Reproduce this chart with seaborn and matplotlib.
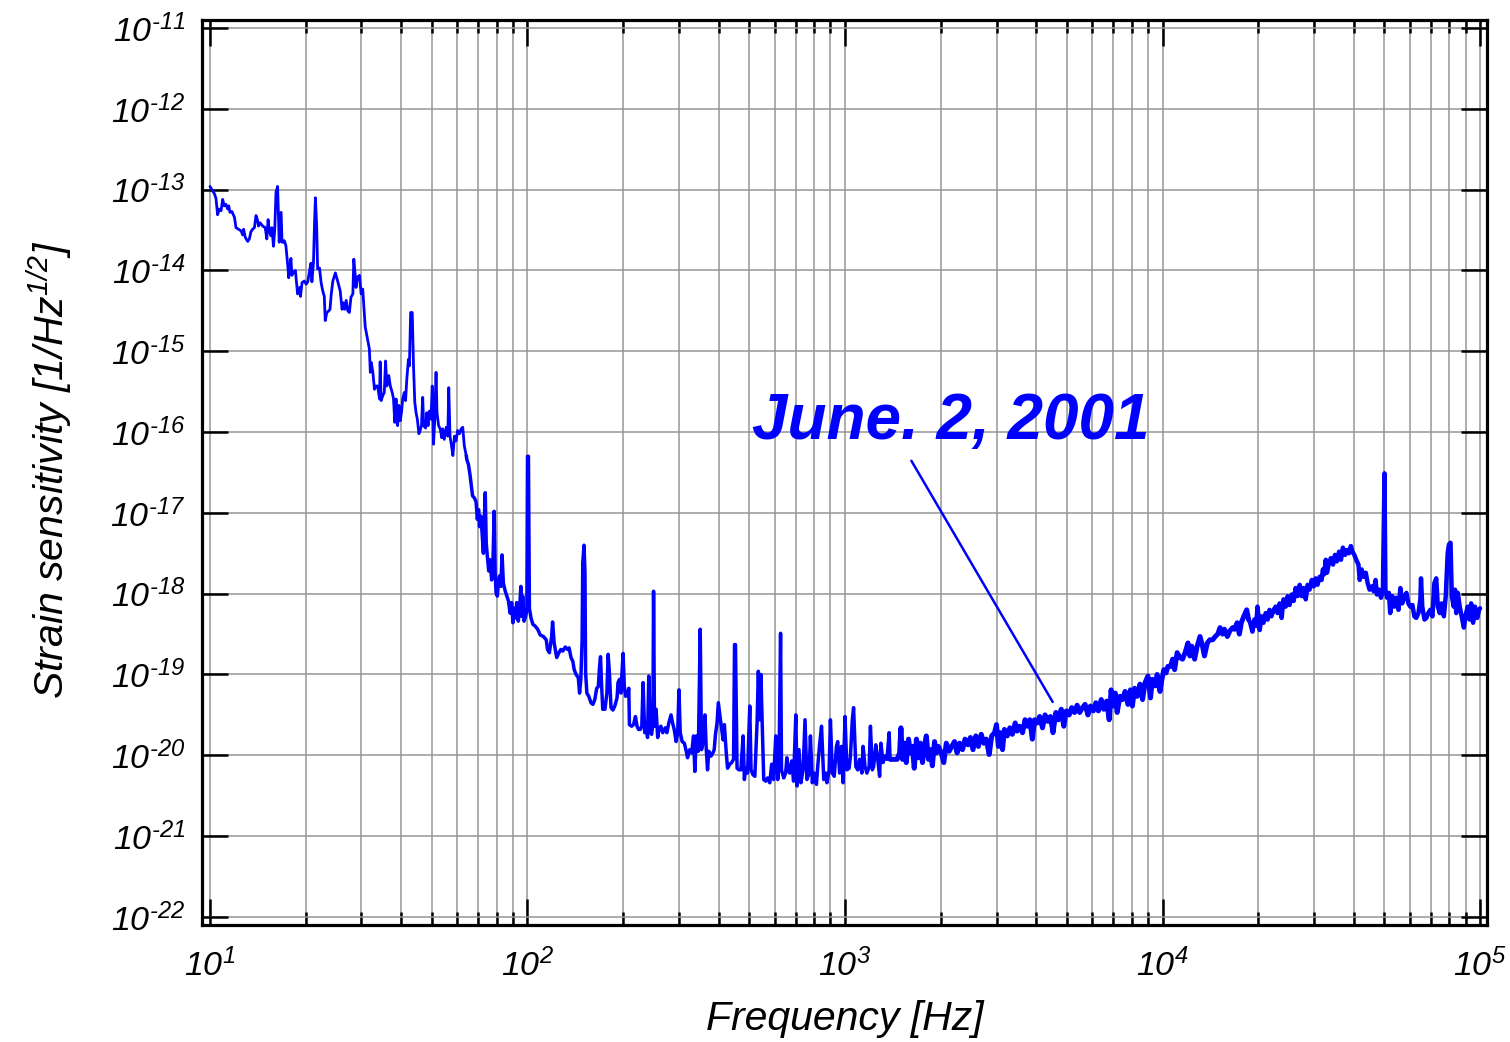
import numpy as np
import pandas as pd
import seaborn as sns
import matplotlib.pyplot as plt
from matplotlib.ticker import FixedLocator, LogLocator, NullFormatter, NullLocator

# 数据: log10(频率[Hz]) 和 log10(应变灵敏度)
low_f = [1.000, 1.014, 1.019, 1.024, 1.029, 1.035, 1.040, 1.045, 1.050, 1.056,
         1.059, 1.063, 1.069, 1.077, 1.082, 1.090, 1.098, 1.103, 1.106, 1.111,
         1.119, 1.124, 1.129, 1.134, 1.140, 1.145, 1.150, 1.153, 1.158, 1.166,
         1.174, 1.179, 1.183, 1.187, 1.192, 1.195, 1.200, 1.204, 1.208, 1.213,
         1.218, 1.224, 1.227, 1.231, 1.234, 1.239, 1.245, 1.248, 1.252, 1.255,
         1.258, 1.263, 1.269, 1.276, 1.282, 1.285, 1.290, 1.297, 1.303, 1.308,
         1.313, 1.318, 1.321, 1.326, 1.329, 1.332, 1.336, 1.339, 1.345, 1.350,
         1.355, 1.360, 1.363, 1.368, 1.374, 1.378, 1.382, 1.387, 1.395, 1.402,
         1.410, 1.416, 1.420, 1.424, 1.429, 1.434, 1.439, 1.444, 1.450, 1.453,
         1.457, 1.460, 1.465, 1.471, 1.476, 1.481, 1.486, 1.489, 1.497, 1.502,
         1.505, 1.508, 1.513, 1.518, 1.523, 1.528, 1.534, 1.536, 1.539, 1.544,
         1.549, 1.553, 1.557, 1.563, 1.568, 1.574, 1.578, 1.582, 1.586, 1.591,
         1.595, 1.599, 1.603, 1.607, 1.612, 1.616, 1.620, 1.625, 1.628, 1.632,
         1.637, 1.641, 1.645, 1.649, 1.653, 1.658, 1.662, 1.666, 1.670, 1.673,
         1.679, 1.683, 1.687, 1.691, 1.696, 1.700, 1.704, 1.708, 1.712, 1.715,
         1.720, 1.725, 1.730, 1.733, 1.738, 1.744, 1.749, 1.752, 1.756, 1.760,
         1.765, 1.770, 1.775, 1.780, 1.786, 1.791, 1.796, 1.801, 1.807]
low_h = [-12.96, -13.05, -13.11, -13.31, -13.24, -13.26, -13.12, -13.20, -13.18, -13.24,
         -13.20, -13.28, -13.27, -13.34, -13.47, -13.49, -13.51, -13.56, -13.49, -13.59,
         -13.64, -13.61, -13.52, -13.49, -13.47, -13.32, -13.38, -13.45, -13.41, -13.45,
         -13.47, -13.61, -13.37, -13.51, -13.57, -13.47, -13.70, -13.49, -13.03, -12.96,
         -13.65, -13.28, -13.65, -13.65, -13.63, -13.69, -13.94, -14.09, -13.94, -13.85,
         -14.06, -14.02, -14.00, -14.29, -14.21, -14.32, -14.15, -14.13, -14.17, -14.14,
         -14.02, -13.91, -14.14, -13.90, -13.45, -13.10, -13.45, -13.98, -13.97, -14.15,
         -14.25, -14.32, -14.62, -14.52, -14.50, -14.48, -14.29, -14.13, -14.03, -14.13,
         -14.25, -14.48, -14.40, -14.48, -14.37, -14.50, -14.52, -14.33, -14.29, -13.86,
         -14.04, -14.21, -14.08, -14.06, -14.29, -14.23, -14.52, -14.70, -14.87, -14.97,
         -15.26, -15.14, -15.26, -15.47, -15.43, -15.43, -15.59, -15.13, -15.61, -15.55,
         -15.51, -15.12, -15.43, -15.30, -15.43, -15.51, -15.59, -15.88, -15.59, -15.92,
         -15.67, -15.86, -15.76, -15.59, -15.51, -15.61, -15.34, -15.10, -15.18, -14.52,
         -14.52, -15.18, -15.63, -15.76, -15.84, -16.02, -15.98, -15.92, -15.57, -15.92,
         -15.95, -15.76, -15.92, -15.74, -15.84, -15.43, -16.15, -15.84, -15.26, -15.76,
         -15.92, -15.96, -16.07, -15.96, -16.09, -15.94, -16.05, -15.45, -16.05, -16.15,
         -16.29, -16.05, -16.11, -15.98, -16.02, -15.96, -15.94, -16.17, -16.29]

mid_f = [1.809, 1.814, 1.819, 1.822, 1.827, 1.832, 1.838, 1.842, 1.846, 1.849,
         1.853, 1.857, 1.861, 1.864, 1.867, 1.870, 1.874, 1.878, 1.882, 1.887,
         1.891, 1.895, 1.898, 1.901, 1.905, 1.909, 1.912, 1.916, 1.920, 1.924,
         1.930, 1.935, 1.940, 1.945, 1.950, 1.954, 1.958, 1.962, 1.966, 1.971,
         1.975, 1.979, 1.982, 1.985, 1.989, 1.994, 1.998, 2.000, 2.003, 2.006,
         2.011, 2.017, 2.024, 2.032, 2.040, 2.050, 2.059, 2.063, 2.069, 2.076,
         2.079, 2.084, 2.092, 2.099, 2.105, 2.111, 2.119, 2.126, 2.131, 2.137,
         2.143, 2.147, 2.153, 2.160, 2.164, 2.168, 2.172, 2.174, 2.178, 2.181,
         2.183, 2.187, 2.193, 2.200, 2.206, 2.212, 2.218, 2.223, 2.227, 2.230,
         2.233, 2.237, 2.244, 2.250, 2.254, 2.258, 2.263, 2.269, 2.275, 2.282,
         2.285, 2.290, 2.294, 2.298, 2.301, 2.305, 2.309, 2.315, 2.319, 2.321,
         2.328, 2.334, 2.340, 2.345, 2.350, 2.355, 2.360, 2.364, 2.369, 2.374,
         2.378, 2.382, 2.387, 2.391, 2.395, 2.397, 2.400, 2.405, 2.410, 2.414,
         2.420, 2.426, 2.434, 2.439, 2.445, 2.452, 2.457, 2.462, 2.468, 2.473,
         2.477, 2.481, 2.487, 2.494, 2.500, 2.504, 2.511, 2.517, 2.523, 2.527,
         2.532, 2.538, 2.544, 2.548, 2.555, 2.559, 2.563, 2.567, 2.571, 2.578,
         2.584, 2.588, 2.592, 2.597, 2.601, 2.605, 2.609, 2.616, 2.620, 2.626,
         2.630, 2.637, 2.643, 2.649, 2.652, 2.655, 2.660, 2.666, 2.672, 2.679,
         2.683, 2.687, 2.693, 2.700, 2.704, 2.710, 2.716, 2.723, 2.727, 2.731,
         2.735, 2.739, 2.744, 2.750, 2.756, 2.763, 2.769, 2.775, 2.782, 2.788,
         2.792, 2.797, 2.800, 2.807, 2.813, 2.817, 2.821, 2.826, 2.832, 2.838,
         2.845, 2.849, 2.855, 2.861, 2.868, 2.874, 2.880, 2.887, 2.891, 2.897,
         2.903, 2.910, 2.914, 2.920, 2.926, 2.933, 2.939, 2.943, 2.950, 2.954,
         2.960, 2.966, 2.973, 2.977, 2.983, 2.989, 2.994, 3.000, 3.006, 3.013,
         3.017, 3.023, 3.027, 3.034, 3.040, 3.046, 3.053, 3.057, 3.063, 3.069,
         3.076, 3.080, 3.086, 3.090, 3.097, 3.103, 3.109, 3.113, 3.120, 3.126,
         3.132, 3.139, 3.142]
mid_h = [-16.34, -16.40, -16.53, -16.63, -16.79, -16.81, -16.86, -17.08, -16.96, -17.17,
         -17.04, -17.25, -17.50, -17.08, -16.75, -17.37, -17.56, -17.72, -17.58, -17.83,
         -17.66, -16.98, -17.74, -17.99, -18.03, -17.83, -17.78, -17.91, -17.52, -17.87,
         -17.97, -18.03, -18.09, -18.24, -18.11, -18.36, -18.18, -18.30, -18.11, -18.34,
         -18.20, -17.91, -18.28, -18.03, -18.34, -18.28, -18.20, -16.30, -16.30, -18.18,
         -18.30, -18.38, -18.40, -18.44, -18.51, -18.53, -18.57, -18.69, -18.73, -18.53,
         -18.35, -18.61, -18.79, -18.73, -18.69, -18.71, -18.66, -18.69, -18.67, -18.79,
         -18.84, -18.94, -19.00, -19.04, -19.23, -19.06, -18.57, -17.62, -17.40, -17.74,
         -18.98, -19.23, -19.27, -19.35, -19.37, -19.31, -19.17, -19.15, -18.90, -18.78,
         -19.10, -19.43, -19.43, -19.23, -18.75, -18.98, -19.41, -19.44, -19.39, -19.29,
         -19.10, -19.06, -19.23, -18.94, -18.74, -19.15, -19.27, -19.25, -19.17, -19.62,
         -19.64, -19.62, -19.52, -19.64, -19.68, -19.68, -19.64, -19.10, -19.72, -19.60,
         -19.78, -19.02, -19.72, -19.74, -19.60, -17.97, -19.64, -19.43, -19.78, -19.68,
         -19.64, -19.72, -19.66, -19.72, -19.60, -19.50, -19.60, -19.68, -19.83, -19.72,
         -19.19, -19.72, -19.83, -19.85, -19.95, -20.03, -19.93, -19.97, -19.76, -20.20,
         -19.76, -19.95, -18.44, -19.93, -19.81, -19.50, -19.93, -20.18, -19.95, -20.01,
         -19.97, -19.93, -19.74, -19.60, -19.35, -19.48, -19.60, -19.81, -19.62, -19.97,
         -20.16, -20.11, -20.09, -20.05, -18.63, -18.63, -20.16, -20.18, -20.18, -19.76,
         -20.30, -20.16, -20.22, -19.39, -20.18, -20.24, -20.26, -19.60, -18.96, -19.56,
         -19.00, -19.56, -20.30, -20.32, -20.28, -20.34, -20.11, -20.30, -19.76, -20.30,
         -20.14, -18.49, -20.18, -20.28, -20.22, -20.03, -20.18, -20.22, -20.07, -20.32,
         -19.50, -20.38, -19.93, -20.34, -20.18, -19.56, -20.30, -20.22, -19.76, -20.34,
         -20.22, -20.36, -20.14, -19.87, -19.64, -20.30, -20.22, -20.34, -20.18, -19.56,
         -20.22, -20.26, -19.89, -19.83, -20.22, -19.89, -20.34, -19.52, -20.18, -20.16,
         -20.01, -19.56, -19.41, -20.14, -20.18, -20.05, -20.22, -19.89, -20.14, -20.22,
         -20.14, -19.64, -20.18, -20.14, -19.87, -20.05, -20.26, -19.85, -20.09, -20.01,
         -20.05, -19.72, -20.05]

rise_f = [3.164, 3.172, 3.176, 3.181, 3.187, 3.193, 3.200, 3.206, 3.212, 3.218,
          3.225, 3.231, 3.237, 3.244, 3.250, 3.256, 3.263, 3.269, 3.275, 3.282,
          3.288, 3.294, 3.303, 3.311, 3.319, 3.328, 3.336, 3.345, 3.353, 3.361,
          3.370, 3.378, 3.387, 3.395, 3.403, 3.412, 3.420, 3.429, 3.437, 3.445,
          3.454, 3.462, 3.471, 3.477, 3.483, 3.489, 3.496, 3.502, 3.511, 3.519,
          3.527, 3.536, 3.542, 3.550, 3.559, 3.567, 3.574, 3.582, 3.590, 3.597,
          3.605, 3.613, 3.622, 3.630, 3.639, 3.647, 3.655, 3.664, 3.672, 3.681,
          3.689, 3.697, 3.706, 3.714, 3.723, 3.731, 3.739, 3.748, 3.756, 3.765,
          3.773, 3.782, 3.790, 3.798, 3.807, 3.815, 3.824, 3.832, 3.838, 3.845,
          3.851, 3.857, 3.866, 3.874, 3.882, 3.891, 3.899, 3.905, 3.912, 3.920,
          3.929, 3.937, 3.945, 3.954, 3.962, 3.968, 3.977, 3.983, 3.992, 3.998,
          4.004, 4.011, 4.017, 4.025, 4.032, 4.038, 4.046, 4.055, 4.063, 4.071,
          4.080, 4.086, 4.092, 4.101, 4.109, 4.118, 4.126, 4.132, 4.141, 4.149,
          4.158, 4.166, 4.174, 4.181, 4.189, 4.195, 4.204, 4.212, 4.221, 4.227,
          4.235, 4.242, 4.248, 4.256, 4.265, 4.271]
rise_h = [-20.05, -19.97, -19.66, -20.05, -19.85, -20.09, -19.80, -19.97, -19.89, -20.16,
          -19.80, -20.03, -19.85, -20.09, -19.89, -19.76, -20.05, -19.93, -20.13, -19.83,
          -19.97, -19.89, -19.97, -20.09, -19.85, -19.95, -19.89, -19.83, -19.97, -19.85,
          -19.93, -19.80, -19.87, -19.78, -19.93, -19.76, -19.89, -19.74, -19.85, -19.80,
          -19.99, -19.76, -19.72, -19.62, -19.89, -19.72, -19.93, -19.68, -19.76, -19.66,
          -19.74, -19.60, -19.70, -19.64, -19.72, -19.56, -19.64, -19.56, -19.80, -19.56,
          -19.60, -19.52, -19.66, -19.50, -19.58, -19.52, -19.72, -19.47, -19.56, -19.43,
          -19.64, -19.45, -19.50, -19.41, -19.47, -19.38, -19.47, -19.41, -19.37, -19.50,
          -19.39, -19.45, -19.35, -19.45, -19.31, -19.43, -19.33, -19.56, -19.19, -19.39,
          -19.23, -19.47, -19.27, -19.31, -19.21, -19.37, -19.19, -19.39, -19.17, -19.27,
          -19.12, -19.31, -19.10, -19.02, -19.29, -19.06, -19.14, -19.00, -19.21, -19.06,
          -18.94, -18.98, -18.90, -18.90, -18.81, -18.94, -18.73, -18.79, -18.81, -18.73,
          -18.61, -18.77, -18.65, -18.81, -18.65, -18.53, -18.65, -18.77, -18.61, -18.57,
          -18.57, -18.53, -18.50, -18.42, -18.50, -18.44, -18.53, -18.46, -18.42, -18.44,
          -18.36, -18.50, -18.36, -18.28, -18.20, -18.32]

high_f = [4.276, 4.283, 4.289, 4.295, 4.299, 4.306, 4.312, 4.318, 4.325, 4.331,
          4.337, 4.343, 4.350, 4.356, 4.362, 4.369, 4.375, 4.381, 4.388, 4.394,
          4.400, 4.407, 4.413, 4.419, 4.425, 4.432, 4.438, 4.444, 4.451, 4.457,
          4.463, 4.470, 4.476, 4.482, 4.488, 4.495, 4.501, 4.505, 4.509, 4.514,
          4.518, 4.524, 4.530, 4.537, 4.543, 4.549, 4.556, 4.562, 4.568, 4.575,
          4.581, 4.587, 4.593, 4.598, 4.604, 4.610, 4.617, 4.621, 4.627, 4.633,
          4.640, 4.646, 4.652, 4.659, 4.665, 4.671, 4.675, 4.682, 4.688, 4.694,
          4.699, 4.702, 4.707, 4.713, 4.717, 4.724, 4.730, 4.736, 4.743, 4.749,
          4.755, 4.762, 4.768, 4.774, 4.780, 4.787, 4.793, 4.799, 4.806, 4.812,
          4.814, 4.818, 4.825, 4.831, 4.837, 4.843, 4.850, 4.856, 4.862, 4.867,
          4.873, 4.879, 4.886, 4.892, 4.898, 4.902, 4.907, 4.911, 4.917, 4.921,
          4.925, 4.930, 4.936, 4.942, 4.949, 4.955, 4.961, 4.967, 4.972, 4.978,
          4.984, 4.991, 4.997, 5.000]
high_h = [-18.36, -18.47, -18.32, -18.40, -18.16, -18.45, -18.28, -18.36, -18.24, -18.32,
          -18.20, -18.28, -18.20, -18.16, -18.24, -18.12, -18.30, -18.07, -18.16, -18.03,
          -18.14, -18.01, -18.09, -17.93, -18.03, -17.89, -18.03, -17.93, -18.07, -17.89,
          -17.95, -17.83, -17.91, -17.81, -17.89, -17.79, -17.83, -17.70, -17.76, -17.58,
          -17.74, -17.62, -17.56, -17.64, -17.52, -17.60, -17.48, -17.58, -17.43, -17.52,
          -17.46, -17.50, -17.41, -17.48, -17.52, -17.58, -17.64, -17.83, -17.70, -17.79,
          -17.74, -17.87, -17.95, -17.91, -17.97, -17.83, -18.01, -17.95, -18.05, -17.95,
          -16.51, -17.95, -18.05, -17.99, -18.24, -18.03, -18.16, -18.05, -18.20, -17.93,
          -18.12, -18.03, -17.99, -18.12, -18.16, -18.14, -18.28, -18.30, -18.24, -18.07,
          -17.81, -18.16, -18.32, -18.30, -18.24, -18.20, -18.28, -17.87, -17.81, -18.16,
          -18.24, -18.12, -18.28, -18.03, -17.50, -17.39, -17.37, -18.03, -18.16, -17.95,
          -18.24, -17.99, -18.16, -18.28, -18.42, -18.26, -18.16, -18.32, -18.12, -18.36,
          -18.16, -18.30, -18.20, -18.18]

x_tick_exp = [1, 2, 3, 4, 5]
y_tick_exp = list(range(-22, -10))

label_text = 'June. 2, 2001'

sns.set_style('white')
plt.rcParams['font.family'] = ['Liberation Sans', 'DejaVu Sans']
plt.rcParams['font.style'] = 'italic'
plt.rcParams['mathtext.fontset'] = 'custom'
plt.rcParams['mathtext.rm'] = 'Liberation Sans:italic'
plt.rcParams['mathtext.it'] = 'Liberation Sans:italic'
plt.rcParams['mathtext.bf'] = 'Liberation Sans:italic:bold'
for key in ['text.color', 'axes.labelcolor', 'xtick.color', 'ytick.color']:
    plt.rcParams[key] = 'black'

fig = plt.figure(figsize=(15.1, 10.42), dpi=100)
ax = fig.add_axes([0.1338, 0.1123, 0.8510, 0.8685])
ax.set_xscale('log')
ax.set_yscale('log')

# 分段画线, 噪声密集的区段用更粗的线
parts = [('low', low_f, low_h), ('mid', mid_f, mid_h),
         ('rise', rise_f, rise_h), ('high', high_f, high_h)]
widths = {'low': 2.0, 'mid': 2.5, 'rise': 3.6, 'high': 3.2}
prev = None
for name, fe, he in parts:
    f = list(fe)
    h = list(he)
    if prev is not None:
        f = [prev[0]] + f
        h = [prev[1]] + h
    seg = pd.DataFrame({'freq': 10.0 ** np.array(f), 'strain': 10.0 ** np.array(h)})
    sns.lineplot(data=seg, x='freq', y='strain', ax=ax, color='#0000ff',
                 linewidth=widths[name], estimator=None, sort=False, zorder=3)
    prev = (fe[-1], he[-1])

ax.set_xlim(10 ** 0.975, 10 ** 5.022)
ax.set_ylim(10 ** -22.1, 10 ** -10.9)

# 刻度
ax.xaxis.set_major_locator(FixedLocator([10.0 ** e for e in x_tick_exp]))
ax.set_xticklabels(['$10^{%d}$' % e for e in x_tick_exp])
ax.xaxis.set_minor_locator(LogLocator(base=10, subs=np.arange(2, 10), numticks=30))
ax.xaxis.set_minor_formatter(NullFormatter())
ax.yaxis.set_major_locator(FixedLocator([10.0 ** e for e in y_tick_exp]))
ax.set_yticklabels(['$10^{\u2010%d}$' % (-e) for e in y_tick_exp])
ax.yaxis.set_minor_locator(NullLocator())

ax.tick_params(which='both', direction='in', top=True, right=True,
               bottom=True, left=True, width=1.8, color='black')
ax.tick_params(which='major', length=19, labelsize=24.5)
ax.tick_params(which='minor', length=9.5)
ax.tick_params(axis='x', which='major', pad=17)
ax.tick_params(axis='y', which='major', pad=12)

ax.grid(True, which='major', color='#969696', linewidth=1.1)
ax.grid(True, which='minor', axis='x', color='#969696', linewidth=1.1)

for sp in ax.spines.values():
    sp.set_linewidth(2.3)
    sp.set_color('black')

ax.set_xlabel('Frequency [Hz]', fontsize=29.5)
ax.set_ylabel('Strain sensitivity [1/Hz$^{1/2}$]', fontsize=29.5)
ax.xaxis.set_label_coords(0.5, -0.083)
ax.yaxis.set_label_coords(-0.099, 0.503)

# 标注
ax.annotate('', xy=(10 ** 3.654, 10 ** -19.34), xytext=(10 ** 3.209, 10 ** -16.355),
            arrowprops=dict(arrowstyle='-', color='#0000ff', lw=1.8,
                            shrinkA=0, shrinkB=0), zorder=4)
ax.text(10 ** 2.708, 10 ** -16.083, label_text, color='#0000ff', fontsize=46,
        fontweight='bold', fontstyle='italic', ha='left', va='baseline', zorder=4)

fig.savefig('out.png', dpi=100)
